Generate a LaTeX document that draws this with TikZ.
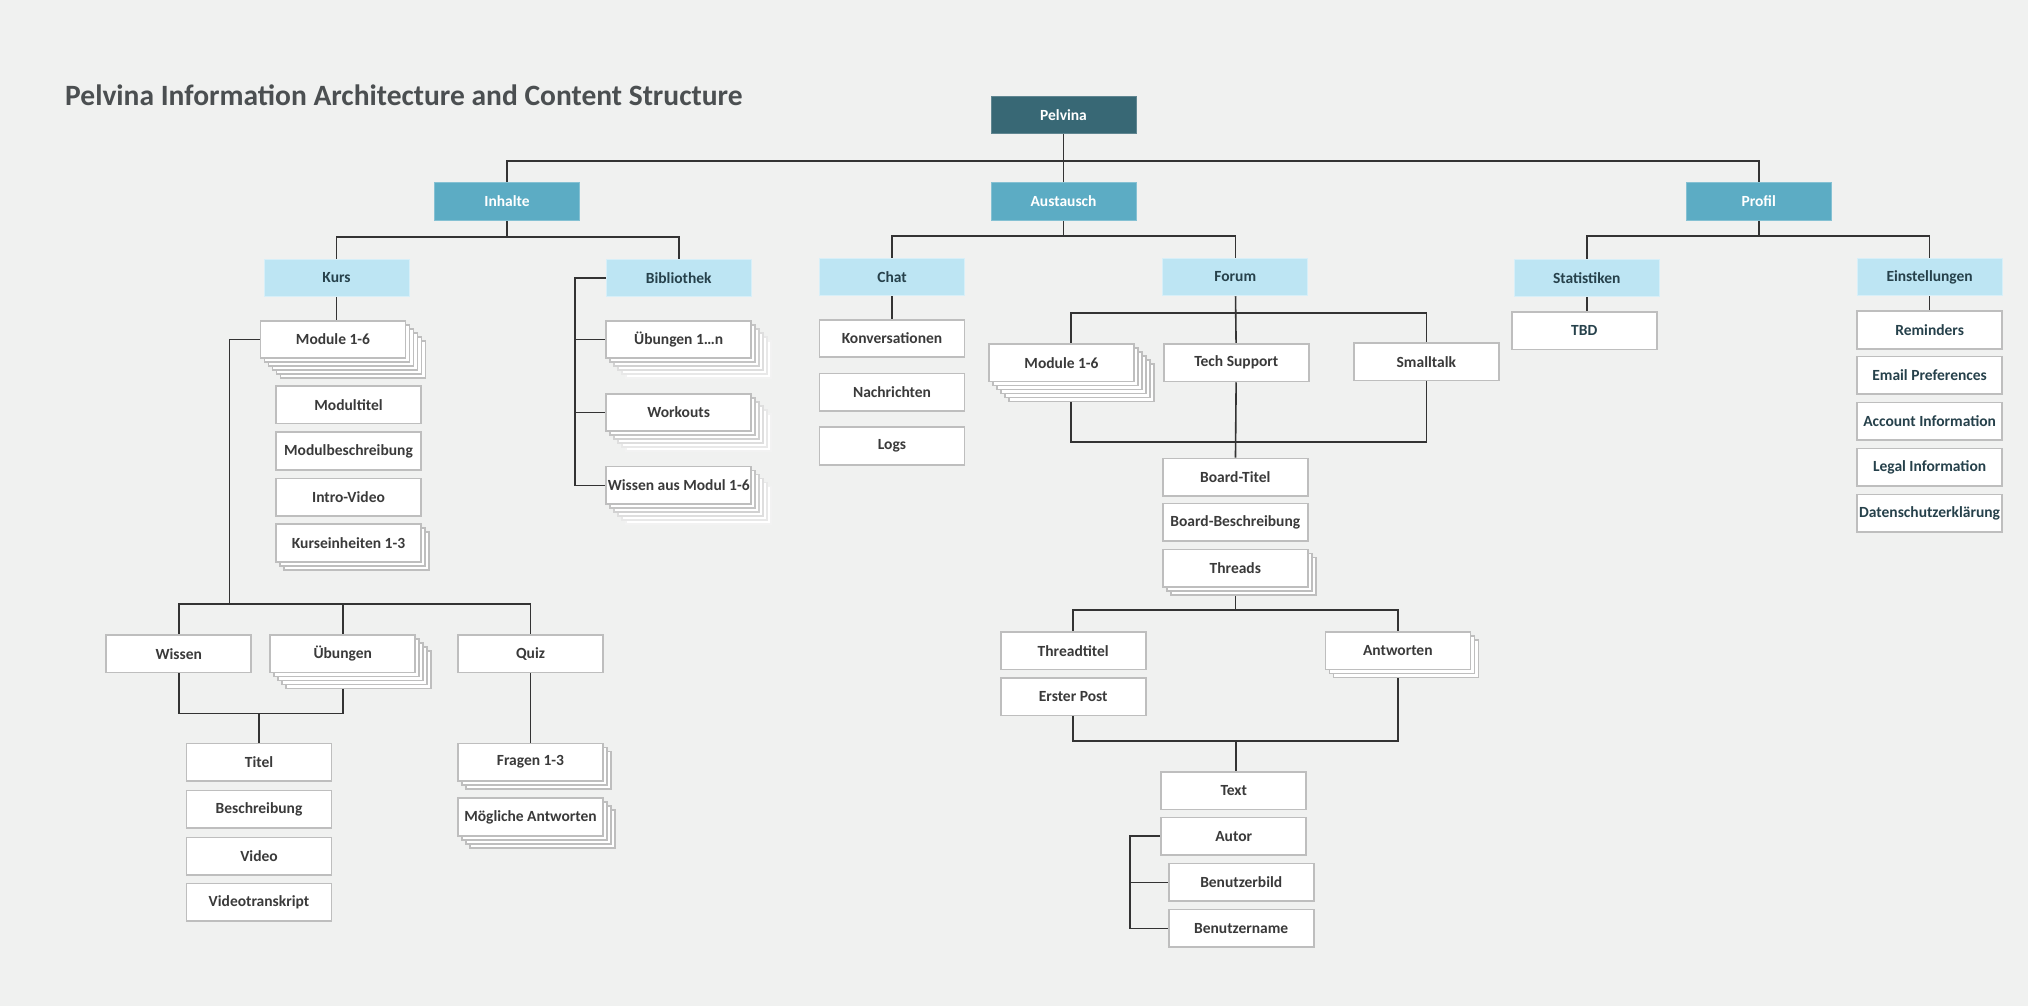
\documentclass[tikz,border=0pt]{standalone}
\usepackage{fontspec}
\setmainfont{Carlito}
\usepackage{xcolor}
\usepackage{tikz}
\usetikzlibrary{shadows,backgrounds}

\definecolor{pagebg}{HTML}{F0F1F0}
\definecolor{rootteal}{HTML}{386875}
\definecolor{midteal}{HTML}{5CACC4}
\definecolor{paleblue}{HTML}{BDE5F3}
\definecolor{boxline}{HTML}{BEBEBE}
\definecolor{linkgray}{HTML}{333333}
\definecolor{inkgray}{HTML}{3A3A3A}
\definecolor{inkslate}{HTML}{26414B}
\definecolor{titlegray}{HTML}{4B4F51}

\tikzset{
  card/.style={rectangle, minimum width=145pt, minimum height=37.5pt, inner sep=0pt,
    font=\fontsize{15.5}{18}\selectfont\bfseries},
  root/.style={card, fill=rootteal, draw=rootteal!80!white, line width=1pt, text=white},
  area/.style={card, fill=midteal, draw=midteal!75!white, line width=1pt, text=white},
  section/.style={card, fill=paleblue, draw=paleblue!60!white, line width=1pt, text=inkslate},
  leaf/.style={card, fill=white, draw=boxline, line width=1.6pt, text=inkgray},
  leafslate/.style={leaf, text=inkslate},
  link/.style={draw=linkgray, line width=1.6pt},
  heading/.style={anchor=base west, inner sep=0pt, text=titlegray,
    font=\fontsize{29.5}{34}\selectfont\bfseries},
  stacktwo/.style={
    copy shadow={shadow xshift=8pt, shadow yshift=-8pt},
    copy shadow={shadow xshift=4pt, shadow yshift=-4pt}},
  stackthree/.style={
    copy shadow={shadow xshift=12pt, shadow yshift=-12pt},
    stacktwo},
  stackfour/.style={
    copy shadow={shadow xshift=16pt, shadow yshift=-16pt},
    stackthree},
  stackfive/.style={
    copy shadow={shadow xshift=20pt, shadow yshift=-20pt},
    stackfour},
  stackfade/.style={
    copy shadow={shadow xshift=20pt, shadow yshift=-20pt, draw=black!5},
    copy shadow={shadow xshift=16pt, shadow yshift=-16pt, draw=black!9},
    copy shadow={shadow xshift=12pt, shadow yshift=-12pt, draw=black!13},
    copy shadow={shadow xshift=8pt, shadow yshift=-8pt, draw=black!18},
    copy shadow={shadow xshift=4pt, shadow yshift=-4pt, draw=black!23}}
}

\begin{document}
\begin{tikzpicture}[x=1pt, y=-1pt]
    \useasboundingbox (0,0) rectangle (2028,1006);

    \node[heading] (title) at (65, 106) {Pelvina Information Architecture and Content Structure};

    % top levels
    \node[root] (pelvina) at (1063.5, 115) {Pelvina};
    \node[area] (inhalte) at (507, 201.3) {Inhalte};
    \node[area] (austausch) at (1063.5, 201.3) {Austausch};
    \node[area] (profil) at (1758.7, 201.3) {Profil};

    \node[section] (kurs) at (336.5, 278) {Kurs};
    \node[section] (bibliothek) at (678.7, 278) {Bibliothek};
    \node[section] (chat) at (892, 277) {Chat};
    \node[section] (forum) at (1235.3, 277) {Forum};
    \node[section] (statistiken) at (1586.7, 278) {Statistiken};
    \node[section] (einstellungen) at (1929.6, 277.2) {Einstellungen};

    % Kurs
    \node[leaf, stackfive] (kursmod) at (333, 339.5) {Module 1-6};
    \node[leaf] (modultitel) at (348.5, 404.8) {Modultitel};
    \node[leaf] (modulbeschreibung) at (348.5, 451) {Modulbeschreibung};
    \node[leaf] (introvideo) at (348.5, 497.2) {Intro-Video};
    \node[leaf, stacktwo] (kurseinheiten) at (348.5, 543) {Kurseinheiten 1-3};

    \node[leaf] (wissen) at (178.7, 653.7) {Wissen};
    \node[leaf, stackfour] (uebungen) at (342.7, 653.7) {Übungen};
    \node[leaf] (quiz) at (530.5, 653.7) {Quiz};

    \node[leaf] (titel) at (259, 762.2) {Titel};
    \node[leaf] (beschreibung) at (259, 809.2) {Beschreibung};
    \node[leaf] (video) at (259, 856.2) {Video};
    \node[leaf] (videotranskript) at (259, 902.2) {Videotranskript};

    \node[leaf, stacktwo] (fragen) at (530.5, 762.2) {Fragen 1-3};
    \node[leaf, stackthree] (moeglich) at (530.5, 817) {Mögliche Antworten};

    % Bibliothek
    \node[leaf, stackfade] (uebn) at (678.7, 339.5) {Übungen 1…n};
    \node[leaf, stackfade] (workouts) at (678.7, 412.5) {Workouts};
    \node[leaf, stackfade] (wissenmod) at (678.7, 485.3) {Wissen aus Modul 1-6};

    % Chat
    \node[leaf] (konversationen) at (892, 338.5) {Konversationen};
    \node[leaf] (nachrichten) at (892, 392.3) {Nachrichten};
    \node[leaf] (logs) at (892, 446) {Logs};

    % Forum
    \node[leaf, stackfive] (forummod) at (1061.5, 362.7) {Module 1-6};
    \node[leaf] (techsupport) at (1236.3, 362.7) {Tech Support};
    \node[leaf] (smalltalk) at (1426.3, 361.7) {Smalltalk};

    \node[leaf] (boardtitel) at (1235.3, 477.2) {Board-Titel};
    \node[leaf] (boardbeschreibung) at (1235.3, 522.2) {Board-Beschreibung};
    \node[leaf, stacktwo] (threads) at (1235.3, 568.2) {Threads};

    \node[leaf] (threadtitel) at (1073.2, 650.8) {Threadtitel};
    \node[leaf] (ersterpost) at (1073.2, 696.8) {Erster Post};
    \node[leaf, stacktwo] (antworten) at (1397.8, 650.8) {Antworten};

    \node[leaf] (text) at (1233.7, 790.8) {Text};
    \node[leaf] (autor) at (1233.7, 836.2) {Autor};
    \node[leaf] (benutzerbild) at (1241.2, 882.3) {Benutzerbild};
    \node[leaf] (benutzername) at (1241.2, 928.3) {Benutzername};

    % Profil
    \node[leafslate] (tbd) at (1584.2, 330.8) {TBD};
    \node[leafslate] (reminders) at (1929.6, 330) {Reminders};
    \node[leafslate] (emailpref) at (1929.6, 375.2) {Email Preferences};
    \node[leafslate] (account) at (1929.6, 421.2) {Account Information};
    \node[leafslate] (legal) at (1929.6, 467.2) {Legal Information};
    \node[leafslate] (datenschutz) at (1929.6, 513.2) {Datenschutzerklärung};

    % bar levels
    \coordinate (topbar) at (1063.5, 160.7);
    \coordinate (inhaltebar) at (507, 236.7);
    \coordinate (austauschbar) at (1063.5, 235.7);
    \coordinate (profilbar) at (1758.7, 235.7);
    \coordinate (kursbar) at (229.5, 604);
    \coordinate (wissenbar) at (259, 713.3);
    \coordinate (bibrail) at (575, 485.3);
    \coordinate (forumbar) at (1071, 312.7);
    \coordinate (forumfoot) at (1071, 442);
    \coordinate (threadbar) at (1235.3, 609.7);
    \coordinate (postbar) at (1236, 741);
    \coordinate (autorrail) at (1129.7, 0);

    \begin{pgfonlayer}{background}
        \fill[pagebg] (0,0) rectangle (2028,1006);

        \draw[link] (pelvina) -- (austausch); % Pelvina-Austausch
        \draw[link] (inhalte.north) |- (topbar) -| (profil.north); % Inhalte-Profil

        \draw[link] (inhalte) -- (inhaltebar);
        \draw[link] (kurs.north) |- (inhaltebar) -| (bibliothek.north); % Kurs-Bibliothek
        \draw[link] (austausch) -- (austauschbar);
        \draw[link] (chat.north) |- (austauschbar) -| (forum.north); % Chat-Forum
        \draw[link] (profil) -- (profilbar);
        \draw[link] (statistiken.north) |- (profilbar) -| (einstellungen.north); % Statistiken-Einstellungen

        \draw[link] (kurs) -- (kurs |- kursmod.north); % Kurs-Module
        \draw[link] (kursmod.west) -| (kursbar);
        \draw[link] (wissen.north) |- (kursbar) -| (quiz.north); % Wissen-Quiz
        \draw[link] (uebungen.north) -- (uebungen.north |- kursbar);
        \draw[link] (wissen.south) |- (wissenbar) -| (uebungen.south); % Wissen-Uebungen
        \draw[link] (wissenbar) -- (titel);
        \draw[link] (quiz) -- (fragen);

        \draw[link] (bibliothek.west) -| (bibrail) -- (wissenmod.west); % Bibliothek-Wissen
        \draw[link] (bibrail |- uebn.west) -- (uebn.west);
        \draw[link] (bibrail |- workouts.west) -- (workouts.west);

        \draw[link] (chat) -- (konversationen);

        \draw[link] (forum) -- (techsupport);
        \draw[link] (techsupport) -- (boardtitel);
        \draw[link] (forumfoot |- forummod.north) -- (forumbar) -| (smalltalk.north); % Module-Smalltalk
        \draw[link] (forumfoot |- forummod.south) -- (forumfoot) -| (smalltalk.south);

        \draw[link] (threads) -- (threadbar);
        \draw[link] (threadtitel.north) |- (threadbar) -| (antworten.north); % Threadtitel-Antworten
        \draw[link] (ersterpost.south) |- (postbar) -| (antworten.south); % Erster Post-Antworten
        \draw[link] (postbar) -- (postbar |- text.north);
        \draw[link] (autor.west) -| (autorrail |- benutzername.west) -- (benutzername.west); % Autor-Benutzername
        \draw[link] (autorrail |- benutzerbild.west) -- (benutzerbild.west);

        \draw[link] (statistiken) -- (statistiken |- tbd.north);
        \draw[link] (einstellungen) -- (reminders);
    \end{pgfonlayer}
\end{tikzpicture}
\end{document}
